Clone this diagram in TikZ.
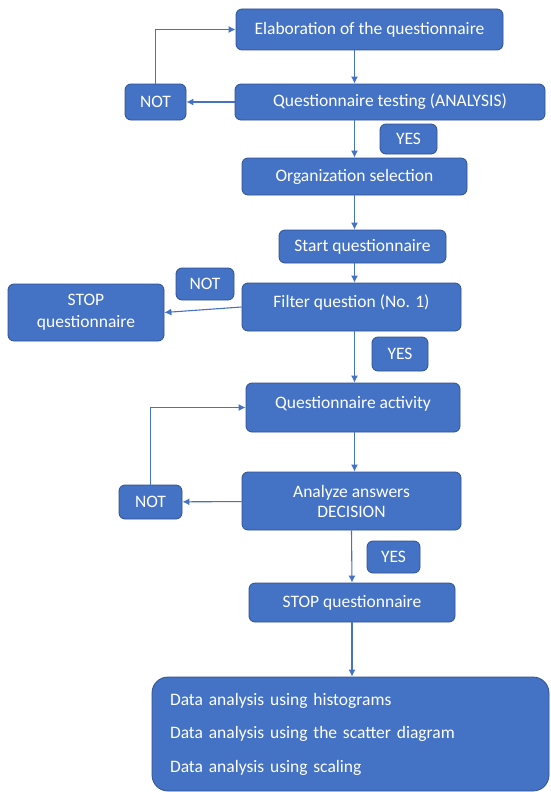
\documentclass[tikz,border=0pt]{standalone}
\usepackage{fontspec}
\setmainfont{Carlito}
\usetikzlibrary{arrows.meta}
\definecolor{boxfill}{HTML}{4472C4}
\definecolor{boxedge}{HTML}{2F528F}
\begin{document}
\begin{tikzpicture}[x=1pt, y=-1pt, font=\fontsize{17.5}{21}\selectfont, line join=round, >={Latex[length=7pt,width=7pt]},
	box/.style={draw=boxedge, fill=boxfill, text=white, rounded corners=6pt, line width=0.8pt, inner sep=0pt, align=center},
	link/.style={->, draw=boxfill, line width=1.1pt}]
	\useasboundingbox (0,0) rectangle (550,792);
	% main column
	\node[box, minimum width=267, minimum height=41] (elab) at (369.5,29.5) {Elaboration of the questionnaire};
	\node[box, minimum width=310, minimum height=36] (test) at (390,102) {Questionnaire testing (ANALYSIS)};
	\node[box, minimum width=225, minimum height=37] (org) at (354.5,176.5) {Organization selection};
	\node[box, minimum width=167, minimum height=33] (start) at (362.5,246.5) {Start questionnaire};
	\node[box, minimum width=219, minimum height=48, text depth=11pt] (filter) at (351.5,307) {Filter question (No. 1)};
	\node[box, minimum width=214, minimum height=49, text depth=11pt] (act) at (353,407.5) {Questionnaire activity};
	\node[box, minimum width=219, minimum height=58, font=\fontsize{17.5}{20}\selectfont] (dec) at (351.5,501) {Analyze answers\\DECISION};
	\node[box, minimum width=206, minimum height=39] (stop2) at (352,602.5) {STOP questionnaire};
	\node[box, rounded corners=16pt, minimum width=397, minimum height=114, inner xsep=18pt, text width=361pt, align=left,
		font=\fontsize{17.5}{33.5}\selectfont] (data) at (350.5,734) {Data analysis using histograms\\Data analysis using the scatter diagram\\Data analysis using scaling};
	% side boxes
	\node[box, minimum width=61, minimum height=36] (not1) at (155.5,102) {NOT};
	\node[box, minimum width=58, minimum height=32] (not2) at (205,284) {NOT};
	\node[box, minimum width=63, minimum height=34] (not3) at (150.5,502) {NOT};
	\node[box, minimum width=57, minimum height=30] (yes1) at (408.5,139) {YES};
	\node[box, minimum width=56, minimum height=34] (yes2) at (400,354) {YES};
	\node[box, minimum width=53, minimum height=32] (yes3) at (393.5,557) {YES};
	\node[box, minimum width=156, minimum height=57, font=\fontsize{17.5}{22}\selectfont] (stop1) at (86,312.5) {STOP\\questionnaire};
	% arrows
	\draw[link] (elab.south -| org) -- (test.north -| org);
	\draw[link] (test) -- (not1);
	\draw[link] (not1.north) |- (elab.west);
	\draw[link] (test.south -| org) -- (org.north);
	\draw[link] (org.south) -- (org.south |- start.north);
	\draw[link] (start.south -| org) -- (filter.north -| org);
	\draw[link] (filter.west) -- (stop1.east);
	\draw[link] (filter.south -| org) -- (act.north -| org);
	\draw[link] (act.south -| org) -- (dec.north -| org);
	\draw[link] (dec) -- (not3);
	\draw[link] (not3.north) |- (act.west);
	\draw[link] (dec.south) -- (stop2.north);
	\draw[link] (stop2.south) -- (stop2.south |- data.north);
\end{tikzpicture}
\end{document}
